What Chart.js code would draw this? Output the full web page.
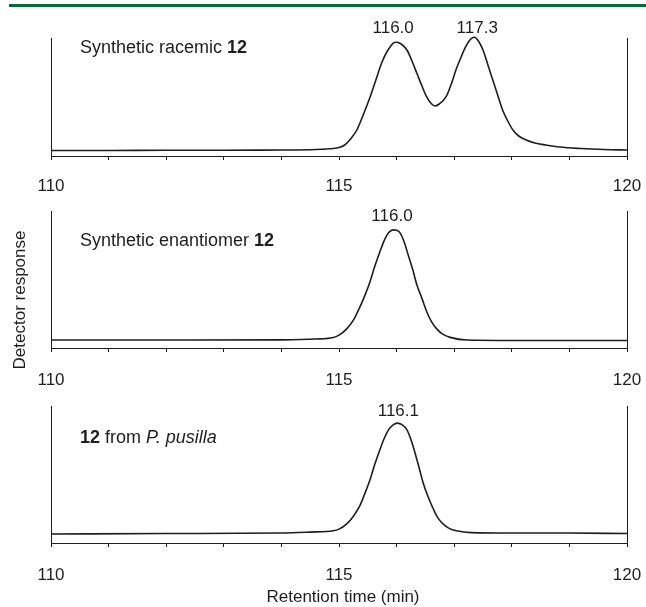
<!DOCTYPE html>
<html>
<head>
<meta charset="utf-8">
<script src="https://cdn.jsdelivr.net/npm/chart.js@4.4.1/dist/chart.umd.min.js"></script>
<style>
  body { margin: 0; background: #fff; }
  #wrap { position: relative; width: 646px; height: 607px; }
  #wrap canvas { position: absolute; left: 0; }
  #rule { position: absolute; left: 9px; top: 4px; width: 637px; height: 3px; background: #006b35; }
</style>
</head>
<body>
<div id="wrap">
  <div id="rule"></div>
  <canvas id="c1" width="646" height="214" style="top:0px"></canvas>
  <canvas id="c2" width="646" height="230" style="top:180px"></canvas>
  <canvas id="c3" width="646" height="232" style="top:375px"></canvas>
</div>
<script>
// retention time (min) and detector response (arbitrary units)
const racemicTime = [110, 111, 112, 113, 114, 114.5, 114.7, 115.0, 115.1, 115.2, 115.31, 115.42, 115.54, 115.64, 115.74, 115.82, 115.89, 115.96, 116.0, 116.08, 116.18, 116.26, 116.35, 116.44, 116.52, 116.6, 116.67, 116.74, 116.86, 116.95, 117.03, 117.12, 117.2, 117.28, 117.35, 117.42, 117.5, 117.58, 117.67, 117.76, 117.84, 117.93, 118.02, 118.12, 118.25, 118.4, 118.59, 118.83, 119.2, 119.6, 120];
const racemicResp = [5.5, 5.5, 5.7, 5.7, 6, 6.2, 6.7, 8.5, 11, 17, 26, 41, 59, 76, 93, 103, 109.3, 113.5, 113.7, 112, 106, 96, 83, 70, 59.3, 52.5, 50, 52, 59.3, 72, 86, 99, 109.3, 116.5, 118.7, 115, 106, 92, 76, 60, 46, 35, 26, 20, 16, 13, 11, 9, 7.5, 6.5, 6];

const enantTime = [110, 112, 114, 114.6, 114.9, 115.0, 115.13, 115.25, 115.36, 115.45, 115.54, 115.62, 115.71, 115.79, 115.86, 115.94, 116.0, 116.06, 116.13, 116.2, 116.28, 116.35, 116.44, 116.52, 116.6, 116.7, 116.8, 116.93, 117.22, 118, 119, 120];
const enantResp = [8, 8, 8.2, 9, 10.5, 13, 19, 28, 41, 53, 67, 82, 97, 109, 116, 119, 118.5, 116, 107, 94, 79, 64, 50, 37, 27, 19, 14, 10.7, 8, 7.5, 7.5, 7.5];

const naturalTime = [110, 112, 114, 114.5, 114.9, 115.0, 115.13, 115.25, 115.36, 115.45, 115.54, 115.62, 115.71, 115.79, 115.86, 115.94, 116.01, 116.1, 116.18, 116.25, 116.32, 116.39, 116.46, 116.55, 116.64, 116.72, 116.81, 116.92, 117.04, 117.3, 118, 119, 120];
const naturalResp = [9, 9.5, 10, 11, 12.3, 14, 19, 27, 37.3, 50, 64, 79, 94, 106, 114, 119, 120.7, 119, 114, 104, 90.7, 76, 60.7, 46, 34, 25, 19, 14.5, 12.3, 10.5, 10, 10, 9.5];

// peak annotations (anchor time, text)
const racemicPeaks = [115.94, 117.4];
const racemicPeakText = ['116.0', '117.3'];
const enantPeaks = [115.92];
const enantPeakText = ['116.0'];
const naturalPeaks = [116.03];
const naturalPeakText = ['116.1'];

const xTicksShown = [110, 115, 120];
const FONT = '"Liberation Sans", Arial, sans-serif';
const INK = '#1e1e1e';

const panelDecor = {
  id: 'panelDecor',
  afterDatasetsDraw(chart, args, o) {
    const ctx = chart.ctx;
    const xs = chart.scales.x, ys = chart.scales.y;
    const area = chart.chartArea;
    ctx.save();
    ctx.fillStyle = INK;
    ctx.textBaseline = 'middle';
    let x = o.captionX;
    const y = area.top + o.captionDy;
    o.caption.forEach(seg => {
      ctx.font = seg.style + ' 18px ' + FONT;
      ctx.textAlign = 'left';
      ctx.fillText(seg.text, x, y);
      x += ctx.measureText(seg.text).width;
    });
    ctx.font = '17px ' + FONT;
    ctx.textAlign = 'center';
    o.peaks.forEach((t, i) => {
      ctx.fillText(o.peakText[i], xs.getPixelForValue(t), ys.getPixelForValue(o.peakLevel));
    });
    if (o.xTitle) {
      ctx.fillText(o.xTitle, (area.left + area.right) / 2 + 4, area.bottom + o.xTitleDy);
    }
    if (o.yTitle) {
      ctx.translate(o.yTitle.x, o.yTitle.y);
      ctx.rotate(-Math.PI / 2);
      ctx.fillText(o.yTitle.text, 0, 0);
    }
    ctx.restore();
  }
};

function makePanel(id, times, resp, yMax, pad, tickPad, decor) {
  const pts = times.map((t, i) => ({ x: t, y: resp[i] }));
  const edge = {
    display: true,
    min: 0, max: yMax,
    ticks: { display: false },
    grid: { display: false, drawTicks: false },
    border: { display: true, color: INK, width: 1 }
  };
  return new Chart(document.getElementById(id), {
    type: 'line',
    data: {
      datasets: [{
        data: pts,
        borderColor: INK,
        borderWidth: 1.6,
        pointRadius: 0,
        tension: 0.4,
        cubicInterpolationMode: 'monotone',
        clip: false
      }]
    },
    options: {
      responsive: false,
      animation: false,
      events: [],
      layout: { padding: pad, autoPadding: false },
      plugins: {
        legend: { display: false },
        tooltip: { enabled: false },
        panelDecor: decor
      },
      scales: {
        x: {
          type: 'linear',
          min: 110, max: 120,
          afterFit: s => { s.paddingLeft = 0; s.paddingRight = 0; },
          ticks: {
            stepSize: 1,
            autoSkip: false,
            maxRotation: 0,
            padding: tickPad,
            color: INK,
            font: { family: FONT, size: 17 },
            callback: v => xTicksShown.includes(v) ? String(v) : ''
          },
          grid: { drawOnChartArea: false, drawTicks: true, tickLength: 4, tickColor: INK },
          border: { display: true, color: INK, width: 1 }
        },
        y: Object.assign({ position: 'left' }, edge),
        y2: Object.assign({ position: 'right' }, edge)
      }
    },
    plugins: [panelDecor]
  });
}

makePanel('c1', racemicTime, racemicResp, 118,
  { top: 38, bottom: 1.6, left: 51, right: 19 }, 16,
  { caption: [{ text: 'Synthetic racemic ', style: 'normal' }, { text: '12', style: 'bold' }],
    captionX: 80, captionDy: 10, peaks: racemicPeaks, peakText: racemicPeakText, peakLevel: 128 });

makePanel('c2', enantTime, enantResp, 138,
  { top: 31, bottom: 1.6, left: 51, right: 19 }, 18,
  { caption: [{ text: 'Synthetic enantiomer ', style: 'normal' }, { text: '12', style: 'bold' }],
    captionX: 80, captionDy: 30, peaks: enantPeaks, peakText: enantPeakText, peakLevel: 132.5,
    yTitle: { text: 'Detector response', x: 20, y: 120 } });

makePanel('c3', naturalTime, naturalResp, 138,
  { top: 31, bottom: 3.6, left: 51, right: 19 }, 18,
  { caption: [{ text: '12', style: 'bold' }, { text: ' from ', style: 'normal' }, { text: 'P. pusilla', style: 'italic' }],
    captionX: 80, captionDy: 32, peaks: naturalPeaks, peakText: naturalPeakText, peakLevel: 132.5,
    xTitle: 'Retention time (min)', xTitleDy: 54 });
</script>
</body>
</html>
